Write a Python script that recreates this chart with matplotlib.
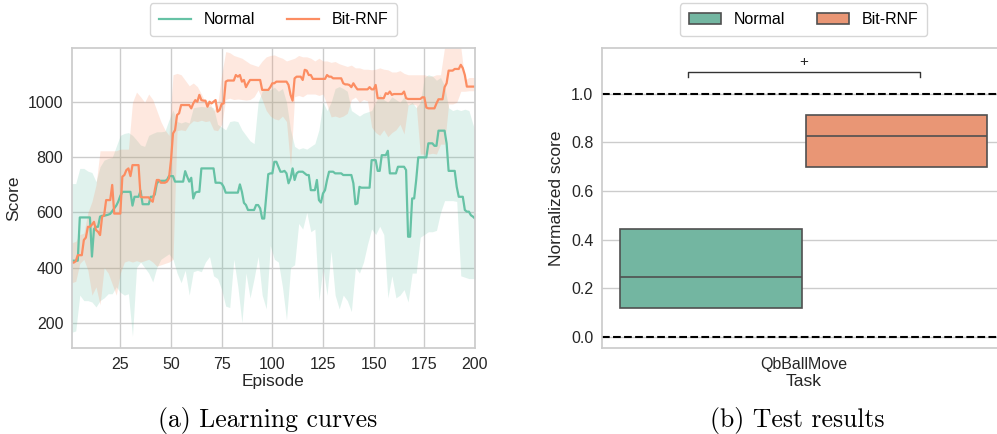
import numpy as np
import matplotlib
matplotlib.use('Agg')
import matplotlib.pyplot as plt
from matplotlib.lines import Line2D
from matplotlib.patches import Patch

plt.rcParams['font.family'] = ['Liberation Sans', 'DejaVu Sans']

# learning curves: mean score per episode
episodes = np.arange(1, 201)
normal_mean = [
    425, 425, 425, 425, 582, 582, 582, 582, 582, 582,
    440, 540, 548, 548, 585, 588, 588, 590, 592, 595,
    605, 615, 625, 640, 660, 675, 675, 675, 675, 675,
    625, 657, 657, 657, 679, 630, 630, 630, 630, 657,
    657, 665, 705, 715, 715, 715, 715, 718, 732, 732,
    732, 712, 712, 712, 712, 712, 750, 730, 712, 726,
    651, 672, 675, 675, 760, 760, 760, 760, 760, 760,
    760, 708, 708, 708, 705, 693, 672, 672, 672, 672,
    672, 672, 672, 702, 675, 635, 627, 609, 609, 609,
    609, 627, 627, 615, 578, 578, 657, 739, 742, 742,
    784, 784, 766, 748, 748, 751, 742, 706, 724, 760,
    718, 742, 748, 748, 748, 742, 736, 736, 681, 681,
    681, 718, 645, 636, 669, 681, 718, 748, 748, 748,
    742, 742, 742, 742, 736, 736, 736, 736, 736, 706,
    630, 633, 693, 690, 690, 690, 690, 690, 790, 790,
    790, 751, 751, 808, 808, 808, 824, 742, 742, 742,
    742, 766, 766, 766, 766, 754, 512, 512, 651, 651,
    718, 800, 800, 800, 800, 800, 851, 851, 851, 842,
    842, 897, 897, 897, 897, 851, 751, 751, 751, 751,
    693, 657, 657, 657, 609, 603, 603, 590, 585, 578,
]
bitrnf_mean = [
    418, 418, 423, 445, 445, 445, 500, 509, 548, 548,
    556, 566, 536, 530, 518, 584, 590, 645, 645, 645,
    700, 596, 596, 596, 596, 730, 736, 754, 760, 732,
    772, 772, 772, 772, 657, 655, 655, 655, 655, 645,
    639, 681, 718, 718, 708, 708, 708, 712, 724, 790,
    887, 899, 954, 960, 990, 990, 990, 990, 990, 978,
    996, 1008, 1002, 1027, 1008, 1006, 1006, 984, 1002, 996,
    1002, 1008, 966, 972, 994, 996, 1075, 1079, 1079, 1079,
    1079, 1099, 1093, 1099, 1075, 1081, 1055, 1069, 1081, 1081,
    1081, 1081, 1081, 1081, 1045, 1045, 1045, 1045, 1055, 1069,
    1069, 1075, 1075, 1075, 1075, 1075, 1075, 1063, 1027, 1006,
    1087, 1093, 1093, 1093, 1081, 1118, 1115, 1099, 1099, 1085,
    1085, 1085, 1085, 1085, 1085, 1085, 1099, 1093, 1093, 1087,
    1087, 1087, 1087, 1087, 1069, 1065, 1065, 1063, 1055, 1069,
    1057, 1047, 1047, 1047, 1047, 1047, 1047, 1055, 1047, 1047,
    1063, 1015, 1015, 1015, 1015, 1033, 1030, 1039, 1027, 1030,
    1030, 1030, 1030, 1030, 1039, 1015, 1012, 1012, 1012, 1012,
    1012, 1012, 1012, 1018, 1018, 981, 978, 978, 978, 978,
    996, 1011, 1011, 1011, 1055, 1069, 1115, 1115, 1115, 1121,
    1121, 1121, 1136, 1124, 1099, 1057, 1057, 1057, 1057, 1057,
]

# spread of the runs, every second episode
band_episodes = np.r_[np.arange(1, 200, 2), 200]
normal_upper = [
    705, 705, 760, 760, 750, 745, 712, 766, 790, 796,
    800, 840, 880, 887, 890, 880, 863, 845, 840, 880,
    887, 893, 893, 895, 936, 972, 930, 925, 930, 925,
    980, 983, 985, 983, 985, 980, 920, 910, 900, 930,
    933, 930, 900, 880, 860, 850, 1000, 1040, 1050, 1045,
    1055, 1040, 1050, 1000, 900, 840, 830, 835, 830, 840,
    850, 900, 1000, 970, 1000, 1050, 1057, 1050, 1040, 970,
    960, 950, 960, 965, 970, 1000, 1030, 1010, 1000, 1020,
    1010, 1000, 1020, 990, 1000, 980, 1000, 1090, 1100, 1095,
    1080, 1090, 1060, 980, 970, 975, 970, 975, 970, 920,
    900,
]
normal_lower = [
    165, 170, 300, 280, 280, 275, 257, 280, 290, 305,
    305, 330, 310, 300, 305, 150, 400, 420, 400, 380,
    348, 400, 430, 440, 450, 430, 380, 345, 390, 300,
    385, 390, 385, 420, 440, 370, 360, 320, 260, 255,
    430, 330, 200, 380, 290, 360, 440, 300, 250, 480,
    430, 420, 330, 210, 400, 410, 560, 540, 600, 530,
    540, 280, 400, 300, 460, 300, 250, 300, 280, 240,
    400, 380, 420, 485, 540, 520, 550, 520, 290, 370,
    290, 300, 320, 275, 380, 380, 510, 520, 530, 530,
    535, 600, 643, 643, 643, 640, 370, 365, 360, 360,
    360,
]
bitrnf_upper = [
    490, 495, 520, 525, 600, 640, 700, 824, 824, 824,
    824, 824, 830, 830, 830, 1000, 1037, 1020, 1000, 1030,
    1010, 970, 930, 900, 880, 1100, 1105, 1100, 1080, 1060,
    1070, 1057, 1030, 1000, 1000, 970, 990, 1100, 1184, 1180,
    1170, 1165, 1160, 1150, 1140, 1135, 1130, 1150, 1165, 1170,
    1172, 1165, 1160, 1150, 1155, 1160, 1170, 1165, 1165, 1160,
    1150, 1160, 1150, 1150, 1145, 1148, 1140, 1135, 1130, 1135,
    1125, 1125, 1120, 1120, 1118, 1120, 1125, 1120, 1118, 1110,
    1110, 1115, 1105, 1100, 1100, 1100, 1100, 1100, 1095, 1095,
    1100, 1100, 1200, 1200, 1200, 1200, 1200, 1080, 1090, 1090,
    1090,
]
bitrnf_lower = [
    345, 350, 415, 430, 390, 300, 330, 265, 400, 380,
    340, 300, 380, 420, 425, 420, 425, 420, 425, 430,
    420, 405, 410, 415, 420, 430, 897, 900, 897, 920,
    933, 930, 935, 930, 933, 900, 897, 920, 1010, 1015,
    1010, 1012, 1010, 1008, 1010, 1020, 1045, 1010, 970, 950,
    940, 936, 950, 930, 765, 1020, 1025, 1020, 1030, 1030,
    1030, 1025, 1030, 990, 947, 950, 945, 950, 960, 1010,
    1019, 1000, 1010, 1005, 910, 890, 880, 900, 875, 890,
    900, 920, 885, 990, 994, 990, 812, 812, 812, 815,
    812, 848, 848, 994, 994, 1000, 1040, 1040, 1042, 1042,
    1042,
]

# test results: normalized score quartiles per method
methods = ['Normal', 'Bit-RNF']
q1 = [0.12, 0.70]
median = [0.245, 0.825]
q3 = [0.445, 0.913]
task = 'QbBallMove'

GREEN = '#66c2a5'
ORANGE = '#fc8d62'
BOX_COLORS = ['#73b6a1', '#e99675']
EDGE = '#505050'
GRID = '#cccccc'


def style(ax):
    for s in ax.spines.values():
        s.set_color(GRID)
        s.set_linewidth(1.25)
    ax.tick_params(length=0, pad=6, labelsize=11.5, colors='#262626')
    ax.grid(True, color=GRID, linewidth=1)
    ax.set_axisbelow(True)


fig = plt.figure(figsize=(9.97, 4.34), dpi=100)
ax1 = fig.add_axes([0.0719, 0.1975, 0.4045, 0.6912])
ax2 = fig.add_axes([0.6035, 0.1975, 0.4053, 0.6912])

# (a) learning curves
style(ax1)
ax1.fill_between(band_episodes, normal_lower, normal_upper, color=GREEN,
                 alpha=0.2, lw=0)
ax1.fill_between(band_episodes, bitrnf_lower, bitrnf_upper, color=ORANGE,
                 alpha=0.2, lw=0)
ax1.plot(episodes, normal_mean, color=GREEN, lw=1.6)
ax1.plot(episodes, bitrnf_mean, color=ORANGE, lw=1.6)
ax1.set_xlim(1, 200)
ax1.set_ylim(107, 1196)
ax1.set_xticks([25, 50, 75, 100, 125, 150, 175, 200])
ax1.set_yticks([200, 400, 600, 800, 1000])
ax1.set_xlabel('Episode', fontsize=12.5, labelpad=2, color='#262626')
ax1.set_ylabel('Score', fontsize=12.5, labelpad=5, color='#262626')
line_handles = [Line2D([], [], color=GREEN, lw=1.6),
                Line2D([], [], color=ORANGE, lw=1.6)]
leg1 = ax1.legend(line_handles, methods, loc='upper center',
                  bbox_to_anchor=(0.5, 1.15), ncol=2, fontsize=11.5,
                  columnspacing=2.0, borderaxespad=0, borderpad=0.55,
                  frameon=True)
leg1.get_frame().set_edgecolor(GRID)

# (b) test results
style(ax2)
ax2.xaxis.grid(False)
stats = []
for i, name in enumerate(methods):
    stats.append(dict(label=name, q1=q1[i], med=median[i], q3=q3[i],
                      whislo=q1[i], whishi=q3[i]))
bp = ax2.bxp(stats, positions=[-0.2, 0.2], widths=0.391, patch_artist=True,
             showfliers=False, showcaps=False,
             boxprops=dict(edgecolor=EDGE, linewidth=1.2),
             medianprops=dict(color=EDGE, linewidth=1.2),
             whiskerprops=dict(color=EDGE, linewidth=1.2))
for box, c in zip(bp['boxes'], BOX_COLORS):
    box.set_facecolor(c)
ax2.axhline(1.0, color='k', ls='--', lw=1.5)
ax2.axhline(0.0, color='k', ls='--', lw=1.5)
ax2.plot([-0.25, -0.25, 0.25, 0.25], [1.069, 1.09, 1.09, 1.069],
         color='#333333', lw=1)
ax2.text(0, 1.133, '+', ha='center', va='center', fontsize=11,
         color='#262626')
ax2.set_xlim(-0.4357, 0.4357)
ax2.set_ylim(-0.048, 1.188)
ax2.set_xticks([0])
ax2.set_xticklabels([task])
ax2.set_yticks([0.0, 0.2, 0.4, 0.6, 0.8, 1.0])
ax2.set_xlabel('Task', fontsize=12.5, labelpad=2, color='#262626')
ax2.set_ylabel('Normalized score', fontsize=12.5, labelpad=5, color='#262626')
patch_handles = [Patch(facecolor=c, edgecolor=EDGE, linewidth=1.2)
                 for c in BOX_COLORS]
leg2 = ax2.legend(patch_handles, methods, loc='upper center',
                  bbox_to_anchor=(0.5, 1.15), ncol=2, fontsize=11.5,
                  columnspacing=2.0, borderaxespad=0, borderpad=0.55,
                  frameon=True)
leg2.get_frame().set_edgecolor(GRID)

# sub-figure captions
fig.text(267.5 / 997, 1 - 420 / 434, '(a) Learning curves', family='cmr10',
         size=18.5, ha='center', va='center')
fig.text(797.7 / 997, 1 - 420 / 434, '(b) Test results', family='cmr10',
         size=18.5, ha='center', va='center')

fig.savefig('out.png', dpi=100)
